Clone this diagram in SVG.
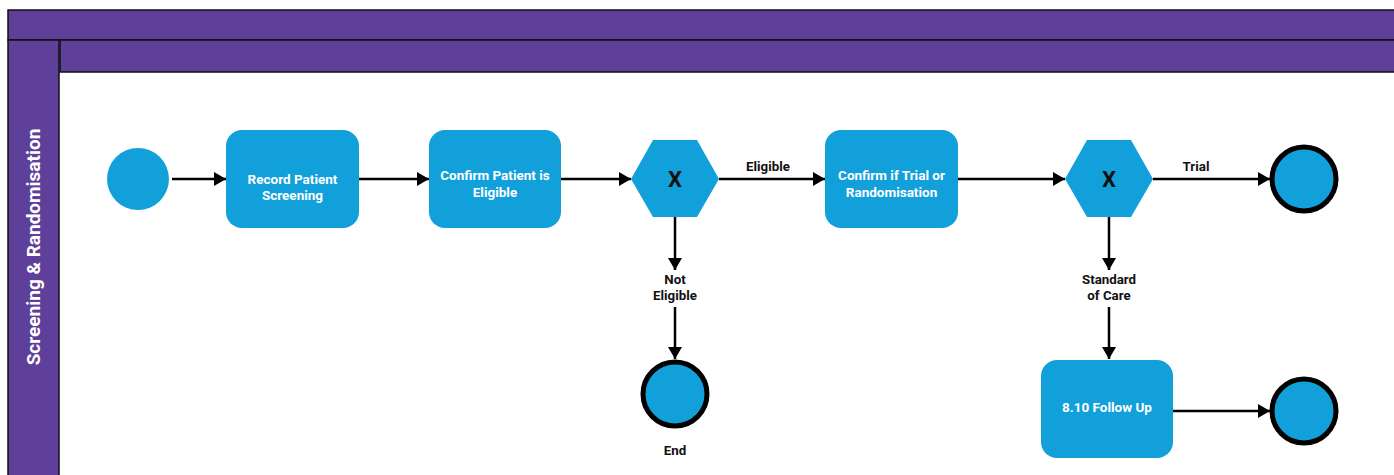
<svg xmlns="http://www.w3.org/2000/svg" width="1394" height="475" viewBox="0 0 1394 475">
<style>
.hdr{fill:#5E3F9A;stroke:#111;stroke-width:1.5}
.task{fill:#12A0DB}
.tt{font-family:Roboto,"Liberation Sans",sans-serif;font-weight:bold;font-size:13.5px;fill:#fff;text-anchor:middle}
.lbl{font-family:Roboto,"Liberation Sans",sans-serif;font-weight:bold;font-size:13.3px;fill:#111;text-anchor:middle}
.gx{font-family:Roboto,"Liberation Sans",sans-serif;font-weight:bold;font-size:22px;fill:#111;text-anchor:middle}
.end{fill:#12A0DB;stroke:#000;stroke-width:5}
.c{stroke:#000;stroke-width:2.5;fill:none;marker-end:url(#ah)}
</style>
<defs>
<marker id="ah" markerWidth="13" markerHeight="14" refX="12" refY="7" orient="auto" markerUnits="userSpaceOnUse">
<path d="M0,0 L12,7 L0,14 Z" fill="#000"/>
</marker>
</defs>
<rect width="1394" height="475" fill="#fff"/>
<g id="pool">
<rect class="hdr" x="8" y="10" width="1400" height="30"/>
<rect class="hdr" x="8" y="40" width="51" height="445"/>
<rect class="hdr" x="60" y="40" width="1348" height="32"/>
<text x="33" y="247" transform="rotate(-90 33 247)" text-anchor="middle" dominant-baseline="central" font-family="Roboto,'Liberation Sans',sans-serif" font-weight="bold" font-size="19" fill="#fff">Screening &amp; Randomisation</text>
</g>
<g id="connectors">
<line class="c" x1="172" y1="179" x2="226" y2="179"/>
<line class="c" x1="359" y1="179" x2="429" y2="179"/>
<line class="c" x1="561" y1="179" x2="631" y2="179"/>
<line class="c" x1="719" y1="179" x2="825" y2="179"/>
<line class="c" x1="958" y1="179" x2="1065" y2="179"/>
<line class="c" x1="1153" y1="179" x2="1270" y2="179"/>
<line class="c" x1="675" y1="217" x2="675" y2="270"/>
<line class="c" x1="675" y1="307" x2="675" y2="359"/>
<line class="c" x1="1109" y1="217" x2="1109" y2="270"/>
<line class="c" x1="1109" y1="307" x2="1109" y2="359"/>
<line class="c" x1="1173" y1="411" x2="1270" y2="411"/>
<text class="lbl" x="768" y="171">Eligible</text>
<text class="lbl" x="1196" y="171">Trial</text>
</g>
<g id="start"><circle cx="138" cy="179" r="31" fill="#12A0DB"/></g>
<g id="task1"><rect class="task" x="226" y="130" width="133" height="98" rx="16"/><text class="tt" x="292.5" y="184">Record Patient</text><text class="tt" x="292.5" y="200">Screening</text></g>
<g id="task2"><rect class="task" x="429" y="130" width="132" height="98" rx="16"/><text class="tt" x="495" y="180">Confirm Patient is</text><text class="tt" x="495" y="197">Eligible</text></g>
<g id="gw1"><polygon fill="#12A0DB" points="631,179 653,140 697,140 719,179 697,217 653,217"/><text class="gx" x="675" y="187">X</text></g>
<g id="notEligible"><text class="lbl" x="675" y="284">Not</text><text class="lbl" x="675" y="300">Eligible</text></g>
<g id="end1"><circle class="end" cx="675" cy="394" r="32"/><text class="lbl" x="675" y="455">End</text></g>
<g id="task3"><rect class="task" x="825" y="130" width="133" height="98" rx="16"/><text class="tt" x="891.5" y="180">Confirm if Trial or</text><text class="tt" x="891.5" y="197">Randomisation</text></g>
<g id="gw2"><polygon fill="#12A0DB" points="1065,179 1087,140 1131,140 1153,179 1131,217 1087,217"/><text class="gx" x="1109" y="187">X</text></g>
<g id="end2"><circle class="end" cx="1304" cy="179" r="32"/></g>
<g id="standardOfCare"><text class="lbl" x="1109" y="284">Standard</text><text class="lbl" x="1109" y="300">of Care</text></g>
<g id="task4"><rect class="task" x="1041" y="360" width="132" height="98" rx="16"/><text class="tt" x="1107" y="412">8.10 Follow Up</text></g>
<g id="end3"><circle class="end" cx="1304" cy="411" r="32"/></g>
</svg>
